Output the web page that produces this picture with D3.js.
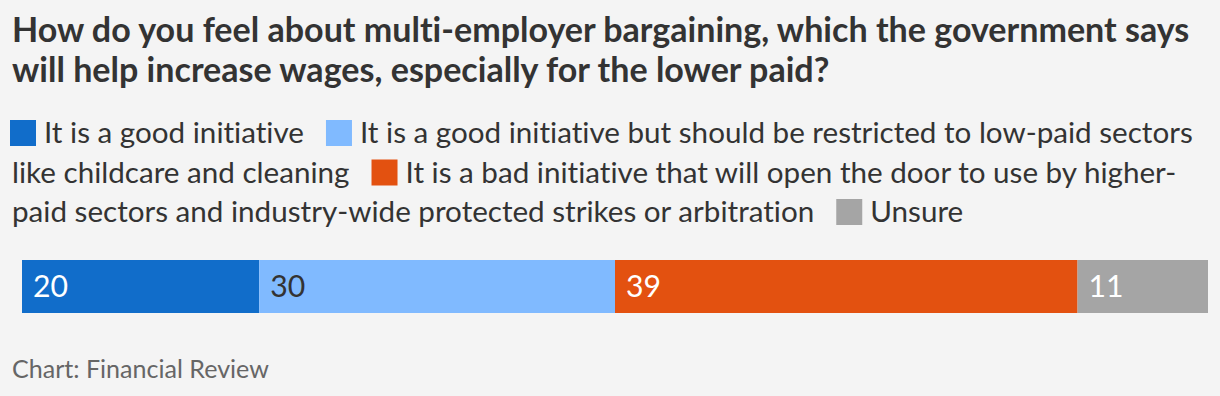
<!DOCTYPE html>
<html>
<head>
<meta charset="utf-8">
<script src="https://cdn.jsdelivr.net/npm/d3@7"></script>
<style>
  html, body { margin: 0; padding: 0; background: #f4f4f4; }
  svg { display: block; font-family: Lato, "Noto Sans", sans-serif; font-variant-ligatures: none; }
</style>
</head>
<body>
<svg id="chart" width="1220" height="396"></svg>
<script>
// chart data
var titleLines = [
    "How do you feel about multi-employer bargaining, which the government says",
    "will help increase wages, especially for the lower paid?"
];
var categories = [
    "It is a good initiative",
    "It is a good initiative but should be restricted to low-paid sectors like childcare and cleaning",
    "It is a bad initiative that will open the door to use by higher-paid sectors and industry-wide protected strikes or arbitration",
    "Unsure"
];
var values = [20, 30, 39, 11];
var colors = ["#116dca", "#80baff", "#e35110", "#a5a5a5"];
var labelColors = ["#ffffff", "#333333", "#ffffff", "#ffffff"];
var source = "Chart: Financial Review";

var width = 1220, height = 396;
var svg = d3.select('#chart');

// helper to measure text
var probe = svg.append('text').attr('x', -1000).attr('y', -1000);
function measure(txt, size, weight) {
    probe.attr('font-size', size).attr('font-weight', weight || 400).text(txt);
    return probe.node().getComputedTextLength();
}
// pick a font size so a string fills a given width
function fitSize(txt, target, weight) {
    return 20 * target / measure(txt, 20, weight);
}

// title
var titleSize = fitSize(titleLines[0], 1178, 700);
svg.append('g').selectAll('text')
    .data(titleLines)
    .enter()
    .append('text')
    .attr('x', 12)
    .attr('y', function(d, i) { return 42 + i * 40; })
    .attr('font-size', titleSize)
    .attr('font-weight', 700)
    .attr('fill', '#333333')
    .text(function(d) { return d; });

// legend, flowed like inline text
var legSize = fitSize(categories[0], 260, 400);
var legLeft = 12, legRight = 1204, sw = 26, swGap = 6, itemGap = 24;
var lineH = 39.5, firstBase = 143;

var swatches = [], segs = [];
var x = legLeft, line = 0;
categories.forEach(function(label, i) {
    var tokens = [];
    label.split(' ').forEach(function(word) {
        var parts = word.split(/(?<=-)/);
        parts.forEach(function(p, j) { tokens.push({ text: p, space: j === 0 }); });
    });
    if (i > 0) x += itemGap;
    if (x + sw + swGap + measure(tokens[0].text, legSize) > legRight) { line++; x = legLeft; }
    swatches.push({ x: x, line: line, color: colors[i] });
    x += sw + swGap;
    var cur = { x: x, line: line, text: '' };
    tokens.forEach(function(t) {
        var piece = (cur.text && t.space ? ' ' : '') + t.text;
        if (cur.text && cur.x + measure(cur.text + piece, legSize) > legRight) {
            segs.push(cur);
            line++;
            cur = { x: legLeft, line: line, text: t.text };
        } else {
            cur.text += piece;
        }
    });
    segs.push(cur);
    x = cur.x + measure(cur.text, legSize);
});

var legend = svg.append('g');
legend.selectAll('rect')
    .data(swatches)
    .enter()
    .append('rect')
    .attr('x', function(d) { return d.x - 2; })
    .attr('y', function(d) { return firstBase + d.line * lineH - 23; })
    .attr('width', sw)
    .attr('height', sw)
    .attr('fill', function(d) { return d.color; });
legend.selectAll('text')
    .data(segs)
    .enter()
    .append('text')
    .attr('x', function(d) { return d.x; })
    .attr('y', function(d) { return firstBase + d.line * lineH; })
    .attr('font-size', legSize)
    .attr('fill', '#333333')
    .text(function(d) { return d.text; });

// stacked bar
var stack = [];
var acc = 0;
values.forEach(function(v, i) {
    stack.push({ x0: acc, x1: acc + v, value: v, i: i });
    acc += v;
});

var xScale = d3.scaleLinear().domain([0, acc]).range([22, 1208]);
var yScale = d3.scaleBand().domain(['all']).range([260, 313]);

var bar = svg.append('g');
bar.selectAll('rect')
    .data(stack)
    .enter()
    .append('rect')
    .attr('x', function(d) { return xScale(d.x0); })
    .attr('y', yScale('all'))
    .attr('width', function(d) { return xScale(d.x1) - xScale(d.x0); })
    .attr('height', yScale.bandwidth())
    .attr('fill', function(d) { return colors[d.i]; });

bar.selectAll('text')
    .data(stack)
    .enter()
    .append('text')
    .attr('x', function(d) { return xScale(d.x0) + 11; })
    .attr('y', yScale('all') + yScale.bandwidth() / 2)
    .attr('dy', '0.35em')
    .attr('font-size', legSize * 1.02)
    .attr('fill', function(d) { return labelColors[d.i]; })
    .text(function(d) { return d.value; });

// source
svg.append('text')
    .attr('x', 12)
    .attr('y', 378)
    .attr('font-size', fitSize(source, 257, 400))
    .attr('fill', '#666666')
    .text(source);

probe.remove();
</script>
</body>
</html>
